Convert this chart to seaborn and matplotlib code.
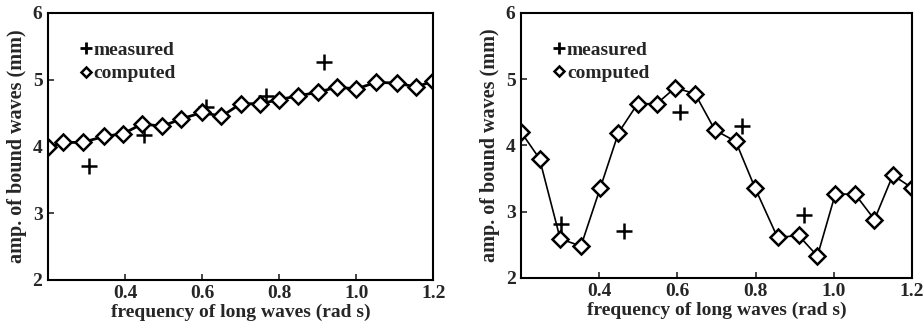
import matplotlib
matplotlib.use("Agg")
import matplotlib.pyplot as plt
import seaborn as sns
import pandas as pd
from matplotlib.lines import Line2D

# left panel: computed (diamonds + line) and measured (pluses)
left_freq = [0.2, 0.24, 0.29, 0.345, 0.395, 0.445, 0.495, 0.545, 0.6, 0.65, 0.7,
             0.75, 0.8, 0.85, 0.9, 0.95, 1.0, 1.05, 1.105, 1.155, 1.2]
left_comp = [3.99, 4.06, 4.06, 4.15, 4.19, 4.34, 4.30, 4.41, 4.51, 4.45, 4.64,
             4.64, 4.70, 4.76, 4.81, 4.89, 4.86, 4.96, 4.95, 4.89, 4.98]
left_meas_freq = [0.305, 0.45, 0.61, 0.765, 0.915]
left_meas = [3.70, 4.17, 4.59, 4.75, 5.26]

# right panel
right_freq = [0.2, 0.247, 0.30, 0.353, 0.402, 0.449, 0.498, 0.547, 0.594, 0.645, 0.696,
              0.749, 0.799, 0.856, 0.91, 0.958, 1.004, 1.055, 1.104, 1.151, 1.2]
right_comp = [4.2, 3.80, 2.59, 2.48, 3.35, 4.19, 4.63, 4.63, 4.87, 4.78, 4.23,
              4.06, 3.35, 2.61, 2.64, 2.33, 3.27, 3.26, 2.88, 3.55, 3.36]
right_meas_freq = [0.302, 0.462, 0.607, 0.765, 0.923]
right_meas = [2.82, 2.71, 4.50, 4.30, 2.95]

x_ticks = [0.4, 0.6, 0.8, 1.0, 1.2]
y_ticks = [2, 3, 4, 5, 6]

sns.set_style("white")
plt.rcParams['font.family'] = ['Liberation Serif', 'DejaVu Serif']
plt.rcParams['font.weight'] = 'bold'

fig = plt.figure(figsize=(9.24, 3.32), dpi=100)
ax1 = fig.add_axes([0.052, 0.157, 0.417, 0.804])
ax2 = fig.add_axes([0.564, 0.163, 0.423, 0.798])

panels = [
    (ax1, left_freq, left_comp, left_meas_freq, left_meas, 2.0),
    (ax2, right_freq, right_comp, right_meas_freq, right_meas, 1.2),
]

for ax, fx, cy, mx, my, lw in panels:
    comp = pd.DataFrame({"f": fx, "a": cy})
    meas = pd.DataFrame({"f": mx, "a": my})
    sns.lineplot(data=comp, x="f", y="a", ax=ax, color="black", lw=lw,
                 marker="D", markersize=8.5, markerfacecolor="white",
                 markeredgecolor="black", markeredgewidth=1.8)
    sns.scatterplot(data=meas, x="f", y="a", ax=ax, marker="+", s=120,
                    color="black", linewidth=1.8)
    ax.set_xlim(0.2, 1.2)
    ax.set_ylim(2, 6)
    ax.set_xticks(x_ticks)
    ax.set_xticklabels(["0.4", "0.6", "0.8", "1.0", "1.2"])
    ax.set_yticks(y_ticks)
    ax.tick_params(direction="in", length=4, width=1.2, labelsize=14,
                   bottom=True, left=True, top=False, right=False, pad=4)
    for s in ax.spines.values():
        s.set_color("black")
        s.set_linewidth(1.5)
    ax.set_xlabel("frequency of long waves (rad s)", fontsize=14, labelpad=1,
                  fontweight="bold")
    ax.set_ylabel("amp. of bound waves (mm)", fontsize=14.5, labelpad=4,
                  fontweight="bold")
    handles = [
        Line2D([], [], ls="none", marker="+", color="black", markersize=8, mew=2),
        Line2D([], [], ls="none", marker="D", color="black", markerfacecolor="white",
               markersize=5.5, mew=1.8),
    ]
    ax.legend(handles, ["measured", "computed"], loc="upper left",
              bbox_to_anchor=(0.06, 0.93), frameon=False, handlelength=0.5,
              handletextpad=0.15, labelspacing=0.3, fontsize=14, borderpad=0)

fig.savefig("out.png", dpi=100)
